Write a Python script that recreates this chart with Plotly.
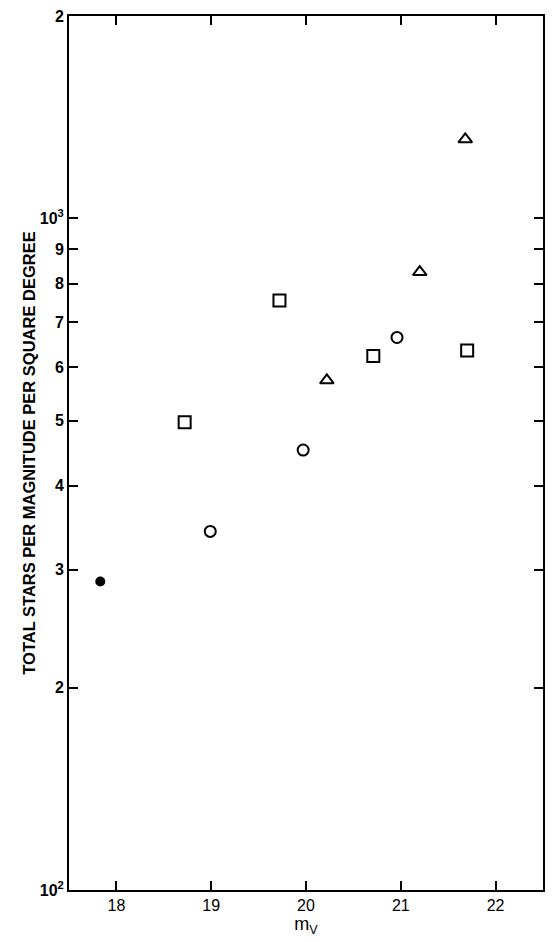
import plotly.graph_objects as go

# Data
filled_x = [17.83]
filled_y = [288]

circle_x = [18.99, 19.97, 20.96]
circle_y = [342, 452, 665]

square_x = [18.72, 19.72, 20.71, 21.70]
square_y = [497, 755, 624, 636]

triangle_x = [20.22, 21.20, 21.68]
triangle_y = [574, 832, 1312]

x_ticks = [18, 19, 20, 21, 22]
y_tickvals = [100, 200, 300, 400, 500, 600, 700, 800, 900, 1000, 2000]
y_ticktext = ["10<sup>2</sup>", "2", "3", "4", "5", "6", "7", "8", "9", "10<sup>3</sup>", "2"]

fig = go.Figure()
fig.add_trace(go.Scatter(x=filled_x, y=filled_y, mode="markers",
                         marker=dict(symbol="circle", size=10, color="black")))
fig.add_trace(go.Scatter(x=circle_x, y=circle_y, mode="markers",
                         marker=dict(symbol="circle-open", size=11, color="black",
                                     line=dict(width=2, color="black"))))
fig.add_trace(go.Scatter(x=square_x, y=square_y, mode="markers",
                         marker=dict(symbol="square-open", size=12, color="black",
                                     line=dict(width=2, color="black"))))
fig.add_trace(go.Scatter(x=triangle_x, y=triangle_y, mode="markers",
                         marker=dict(symbol="triangle-up-open", size=12, color="black",
                                     line=dict(width=2, color="black"))))

font_family = "Liberation Sans, Arial, sans-serif"

fig.update_layout(
    width=552, height=934,
    margin=dict(l=61, r=17, t=8, b=52),
    plot_bgcolor="white", paper_bgcolor="white",
    showlegend=False,
    font=dict(family=font_family, color="black"),
    xaxis=dict(
        range=[17.5, 22.5], tickvals=x_ticks, ticktext=[str(v) for v in x_ticks],
        ticks="inside", ticklen=9, tickwidth=1.5, tickcolor="black",
        showline=True, linecolor="black", linewidth=2, mirror="ticks",
        showgrid=False, zeroline=False, automargin=False,
        tickfont=dict(size=16, family=font_family),
        title=dict(text="m<sub>V</sub>", font=dict(size=18, family=font_family), standoff=0),
    ),
    yaxis=dict(
        type="log", range=[2, 3.3015],
        tickvals=y_tickvals, ticktext=y_ticktext,
        ticks="inside", ticklen=9, tickwidth=1.5, tickcolor="black",
        showline=True, linecolor="black", linewidth=2, mirror="ticks",
        showgrid=False, zeroline=False, automargin=False,
        ticklabeloverflow="allow",
        tickfont=dict(size=16, family=font_family, weight="bold"),
        title=dict(text="TOTAL STARS PER MAGNITUDE PER SQUARE DEGREE",
                   font=dict(size=16.5, family=font_family, weight="bold"), standoff=0),
    ),
)

fig.write_html("out.html")
